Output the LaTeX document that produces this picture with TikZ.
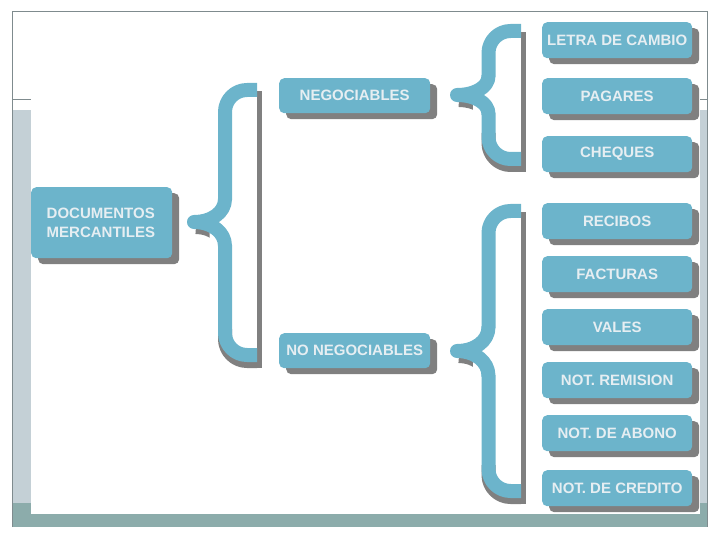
\documentclass[tikz,border=0pt]{standalone}
\usepackage{fontspec}
\setmainfont{Liberation Sans}
\usetikzlibrary{shadows}
\definecolor{boxblue}{HTML}{6CB4CB}
\definecolor{boxshadow}{HTML}{808080}
\definecolor{boxtext}{HTML}{E6EEF2}
\definecolor{framegray}{HTML}{7F8B8E}
\definecolor{sidebar}{HTML}{C4D0D6}
\definecolor{footbar}{HTML}{8CACAB}
\newcommand\drawbrace[8]{%
 % #1 vx, #2 ex, #3 ty, #4 by, #5 tipx, #6 tipy, #7 c1, #8 c2
 \fill[boxshadow] ({#2},{#3+1}) rectangle ({#2+5},{#4+13});
 \draw[braceshadow, rounded corners=22pt] ({#1},{#4-26}) |- ({#2},{#4+6});
 \begin{scope}
 \clip ({#5-15},{#6}) rectangle ({#5+0.5*(#1-#5)},{#8+20});
 \draw[braceshadow] ({#5+2},{#6+5}) .. controls ({#5+0.55*(#1-#5)},{#6+5}) and ({#1},{#8+5-0.6*(#8-#6)}) .. ({#1},{#8+5});
 \end{scope}
 \draw[bracestroke, rounded corners=22pt] ({#2},{#3}) -| ({#1},{#7+1});
 \draw[bracestroke] ({#1},{#7}) .. controls ({#1},{#7+0.6*(#6-#7)}) and ({#5+0.55*(#1-#5)},{#6}) .. ({#5},{#6}) .. controls ({#5+0.55*(#1-#5)},{#6}) and ({#1},{#8-0.6*(#8-#6)}) .. ({#1},{#8});
 \draw[bracestroke, rounded corners=22pt] ({#1},{#8-1}) |- ({#2},{#4});
}
\begin{document}
\begin{tikzpicture}[x=1pt,y=-1pt,
 itembox/.style={draw=none, fill=boxblue, rounded corners=5pt, minimum width=150pt, minimum height=36pt, inner sep=0pt, anchor=north west, text=boxtext, font=\fontsize{15}{19.5}\selectfont\bfseries, drop shadow={opacity=1, fill=boxshadow, shadow xshift=7pt, shadow yshift=-6pt}},
 bracestroke/.style={draw=boxblue, line width=14pt, line join=round},
 braceshadow/.style={draw=boxshadow, line width=14pt, line join=round}]
\useasboundingbox (0,0) rectangle (720,540);
% frame
\fill[sidebar] (12,110) rectangle (31,503);
\fill[sidebar] (700,110) rectangle (707,503);
\fill[footbar] (12,503) rectangle (31,527);
\fill[footbar] (700,503) rectangle (707,527);
\fill[footbar] (12,514) rectangle (707,527);
\draw[framegray, line width=1pt] (12,527) -- (12,12) -- (707,12) -- (707,527);
\draw[framegray, line width=1pt] (12,100) -- (31,100) (700,100) -- (707,100);
% braces
\drawbrace{225}{257}{90}{355}{194}{222}{199}{246}
\drawbrace{488.5}{521}{31}{159}{457}{95}{76}{114}
\drawbrace{488.5}{521}{211}{491}{457}{351}{327}{376}
% nodes
\node[itembox, minimum width=141pt, minimum height=71pt, text width=110pt, align=left] (doc) at (31,187) {DOCUMENTOS\\MERCANTILES};
\node[itembox, minimum width=151pt, minimum height=35pt] (neg) at (279,78) {NEGOCIABLES};
\node[itembox, minimum width=151pt, minimum height=35pt] (noneg) at (279,333) {NO NEGOCIABLES};
\node[itembox] (letra) at (542,22) {LETRA DE CAMBIO};
\node[itembox] (pagares) at (542,78) {PAGARES};
\node[itembox] (cheques) at (542,136) {CHEQUES};
\node[itembox] (recibos) at (542,203) {RECIBOS};
\node[itembox] (facturas) at (542,256) {FACTURAS};
\node[itembox] (vales) at (542,309) {VALES};
\node[itembox] (remision) at (542,362) {NOT. REMISION};
\node[itembox] (abono) at (542,415) {NOT. DE ABONO};
\node[itembox] (credito) at (542,470) {NOT. DE CREDITO};
\end{tikzpicture}
\end{document}
